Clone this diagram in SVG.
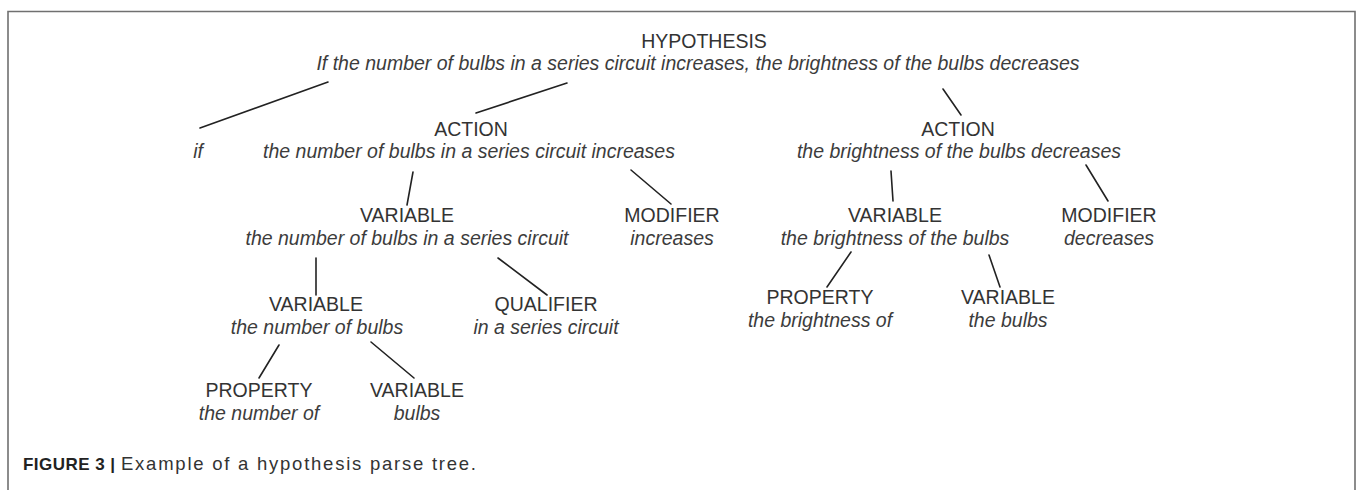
<svg xmlns="http://www.w3.org/2000/svg" width="1360" height="490" viewBox="0 0 1360 490">
<style>
.cap{font-family:"Liberation Sans",Arial,sans-serif;font-size:19.5px;fill:#333;text-anchor:middle}
.it{font-family:"Liberation Sans",Arial,sans-serif;font-size:19.5px;font-style:italic;fill:#3c3c3c;text-anchor:middle}
.edge{stroke:#222;stroke-width:1.6;fill:none;stroke-linecap:round}
.frame{stroke:#707070;stroke-width:1.6;fill:none}
.capb{font-family:"Liberation Sans",Arial,sans-serif;font-size:17px;font-weight:bold;fill:#222}
.capr{font-family:"Liberation Sans",Arial,sans-serif;font-size:18.5px;fill:#333}
</style>
<rect width="1360" height="490" fill="#fff"/>
<path class="frame" d="M8,490 V11.5 H1355 V490"/>
<g id="connectors">
<line class="edge" x1="200" y1="128" x2="328" y2="82"/>
<line class="edge" x1="476" y1="113" x2="567" y2="83"/>
<line class="edge" x1="943" y1="89" x2="961" y2="115"/>
<line class="edge" x1="413" y1="172" x2="407" y2="205"/>
<line class="edge" x1="631" y1="170" x2="671" y2="204"/>
<line class="edge" x1="891" y1="171" x2="893" y2="201"/>
<line class="edge" x1="1086" y1="165" x2="1108" y2="201"/>
<line class="edge" x1="316" y1="258" x2="316" y2="295"/>
<line class="edge" x1="498" y1="258" x2="547" y2="295"/>
<line class="edge" x1="851" y1="252" x2="827" y2="287"/>
<line class="edge" x1="989" y1="255" x2="1000" y2="287"/>
<line class="edge" x1="279" y1="345" x2="259" y2="378"/>
<line class="edge" x1="371" y1="342" x2="414" y2="378"/>
</g>
<g id="hypothesis">
<text class="cap" x="704" y="48">HYPOTHESIS</text>
<text class="it" x="698" y="70">If the number of bulbs in a series circuit increases, the brightness of the bulbs decreases</text>
</g>
<g id="if">
<text class="it" x="198" y="158">if</text>
</g>
<g id="action1">
<text class="cap" x="471" y="136">ACTION</text>
<text class="it" x="469" y="158">the number of bulbs in a series circuit increases</text>
</g>
<g id="action2">
<text class="cap" x="958" y="136">ACTION</text>
<text class="it" x="959" y="158">the brightness of the bulbs decreases</text>
</g>
<g id="variable1">
<text class="cap" x="407" y="222">VARIABLE</text>
<text class="it" x="407" y="245">the number of bulbs in a series circuit</text>
</g>
<g id="modifier1">
<text class="cap" x="672" y="222">MODIFIER</text>
<text class="it" x="672" y="245">increases</text>
</g>
<g id="variable2">
<text class="cap" x="895" y="222">VARIABLE</text>
<text class="it" x="895" y="245">the brightness of the bulbs</text>
</g>
<g id="modifier2">
<text class="cap" x="1109" y="222">MODIFIER</text>
<text class="it" x="1109" y="245">decreases</text>
</g>
<g id="variable3">
<text class="cap" x="316" y="311">VARIABLE</text>
<text class="it" x="317" y="334">the number of bulbs</text>
</g>
<g id="qualifier">
<text class="cap" x="546" y="311">QUALIFIER</text>
<text class="it" x="546" y="334">in a series circuit</text>
</g>
<g id="property2">
<text class="cap" x="820" y="304">PROPERTY</text>
<text class="it" x="820" y="327">the brightness of</text>
</g>
<g id="variable5">
<text class="cap" x="1008" y="304">VARIABLE</text>
<text class="it" x="1008" y="327">the bulbs</text>
</g>
<g id="property1">
<text class="cap" x="259" y="397">PROPERTY</text>
<text class="it" x="259" y="420">the number of</text>
</g>
<g id="variable4">
<text class="cap" x="417" y="397">VARIABLE</text>
<text class="it" x="417" y="420">bulbs</text>
</g>
<g id="caption">
<text class="capb" x="23" y="470" textLength="92" lengthAdjust="spacing">FIGURE 3 |</text>
<text class="capr" x="121" y="470" textLength="355" lengthAdjust="spacing">Example of a hypothesis parse tree.</text>
</g>
</svg>
